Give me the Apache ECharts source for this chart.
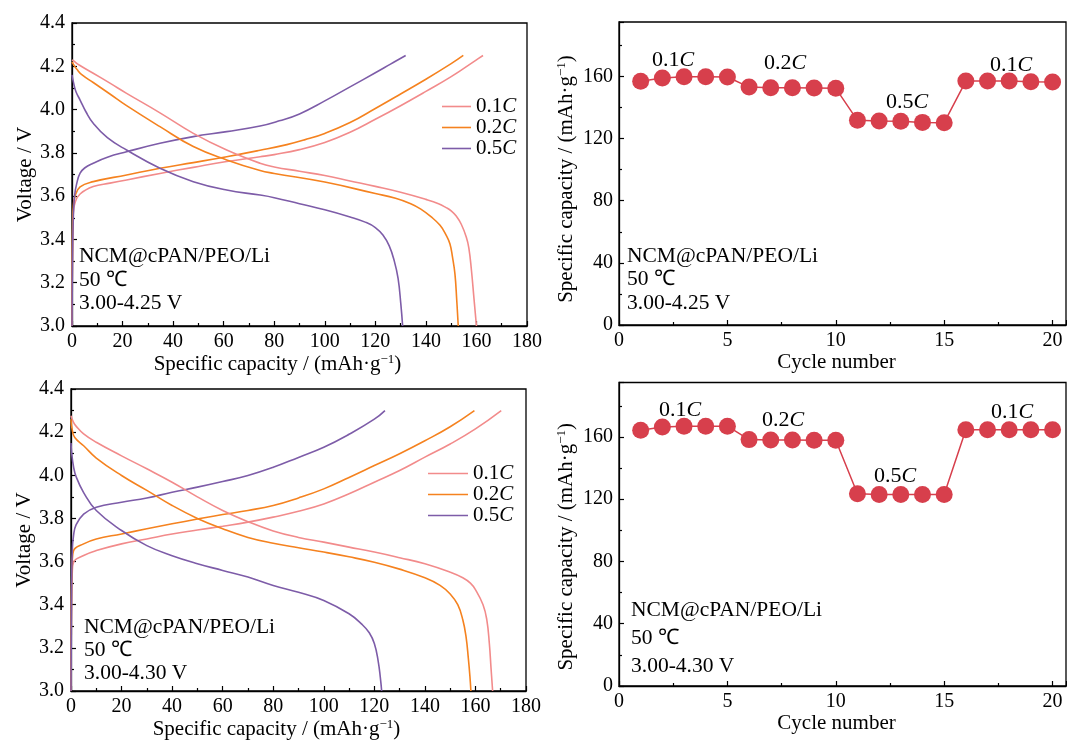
<!DOCTYPE html>
<html>
<head>
<meta charset="utf-8">
<script src="https://cdn.jsdelivr.net/npm/echarts@6/dist/echarts.min.js"></script>
<style>
  html, body { margin: 0; padding: 0; background: #fff; }
  #chart { width: 1067px; height: 743px; }
</style>
</head>
<body>
<div id="chart"></div>
<script>
// ---- charge / discharge profiles, cut-off 4.25 V : [capacity mAh/g, voltage V] ----
const chg01_425 = [[0,3.0],[0.2,3.35],[0.5,3.52],[1.2,3.57],[3.2,3.61],[8.4,3.644],[15,3.66],[21.6,3.675],[34.8,3.705],[48,3.733],[61.2,3.76],[74.4,3.782],[80,3.792],[90,3.815],[100,3.848],[110,3.895],[120,3.955],[130,4.018],[140,4.084],[150,4.152],[160,4.23],[162.6,4.25]];
const chg02_425 = [[0,3.0],[0.2,3.4],[0.5,3.55],[1.2,3.60],[3.2,3.643],[8.4,3.667],[21.6,3.698],[34.8,3.729],[48,3.755],[61.2,3.782],[74.4,3.812],[85,3.838],[92,3.86],[100,3.89],[110,3.94],[120,4.005],[130,4.072],[140,4.14],[150,4.212],[154.8,4.25]];
const chg05_425 = [[0,3.0],[0.2,3.3],[0.5,3.49],[1,3.6],[1.9,3.66],[3.2,3.706],[5,3.73],[8.4,3.752],[14,3.78],[21.6,3.805],[34.8,3.844],[48,3.875],[61.2,3.898],[74.4,3.924],[82,3.948],[90,3.98],[100,4.04],[110,4.105],[120,4.17],[126,4.21],[132,4.25]];
const dis01_425 = [[0,4.23],[0.5,4.226],[3,4.205],[8.4,4.168],[15,4.122],[21.6,4.075],[34.8,3.985],[48,3.89],[61.2,3.813],[74.4,3.752],[80,3.735],[90,3.715],[100,3.695],[110,3.67],[120,3.645],[130,3.618],[140,3.585],[145,3.565],[148,3.547],[150,3.532],[152,3.508],[154,3.47],[156,3.41],[157,3.36],[158,3.26],[159,3.13],[160,3.0]];
const dis02_425 = [[0,4.22],[0.5,4.21],[2,4.185],[4,4.16],[8.4,4.125],[15,4.072],[21.6,4.018],[34.8,3.921],[48,3.829],[61.2,3.767],[74.4,3.718],[80,3.705],[100,3.665],[120,3.612],[128,3.59],[134,3.565],[138,3.54],[142,3.505],[145.6,3.465],[148,3.42],[149.5,3.38],[150.5,3.32],[151.5,3.24],[152.2,3.12],[152.8,3.0]];
const dis05_425 = [[0,4.16],[0.5,4.13],[1.5,4.085],[3.2,4.044],[5.5,3.99],[8.4,3.937],[14,3.87],[21.6,3.813],[34.8,3.729],[48,3.667],[61.2,3.628],[74.4,3.605],[80,3.593],[90,3.565],[100,3.537],[110,3.504],[116,3.48],[120,3.455],[123,3.42],[125.5,3.37],[127.5,3.30],[129,3.22],[130.1,3.1],[130.8,3.0]];

// ---- charge / discharge profiles, cut-off 4.30 V ----
const chg01_430 = [[0,3.0],[0.2,3.4],[0.5,3.55],[1,3.597],[5,3.628],[10,3.651],[20,3.682],[30,3.705],[40,3.728],[50,3.746],[60,3.764],[70,3.783],[80,3.806],[90,3.833],[100,3.867],[110,3.914],[120,3.968],[130,4.022],[140,4.084],[150,4.145],[160,4.215],[170.2,4.30]];
const chg02_430 = [[0,3.0],[0.2,3.45],[0.5,3.6],[1,3.65],[5,3.682],[10,3.705],[20,3.728],[30,3.752],[40,3.775],[50,3.797],[60,3.818],[70,3.837],[80,3.86],[90,3.895],[100,3.937],[110,3.99],[120,4.045],[130,4.10],[140,4.16],[150,4.225],[159.6,4.30]];
const chg05_430 = [[0,3.0],[0.2,3.4],[0.5,3.65],[1,3.72],[2,3.77],[5,3.82],[10,3.852],[20,3.875],[30,3.895],[40,3.921],[50,3.945],[60,3.971],[70,3.999],[80,4.037],[90,4.083],[100,4.13],[110,4.19],[120,4.26],[124.2,4.30]];
const dis01_430 = [[0,4.276],[1,4.245],[2,4.228],[5,4.192],[10,4.153],[20,4.09],[30,4.03],[40,3.968],[50,3.90],[60,3.837],[70,3.785],[80,3.742],[90,3.712],[100,3.69],[110,3.667],[120,3.644],[130,3.618],[140,3.59],[150,3.551],[155,3.525],[158,3.50],[160,3.47],[163,3.40],[164.5,3.33],[165.5,3.22],[166.2,3.1],[166.8,3.0]];
const dis02_430 = [[0,4.26],[0.5,4.21],[1.5,4.175],[5,4.137],[10,4.08],[20,3.999],[30,3.93],[40,3.86],[50,3.80],[60,3.752],[70,3.712],[80,3.685],[90,3.664],[100,3.644],[110,3.622],[120,3.597],[130,3.565],[140,3.525],[146,3.49],[150,3.45],[153,3.40],[155,3.33],[156.3,3.25],[157.2,3.15],[157.8,3.07],[158.2,3.0]];
const dis05_430 = [[0,4.15],[0.3,4.1],[1,4.04],[2,3.994],[5,3.92],[10,3.837],[20,3.744],[30,3.674],[40,3.627],[50,3.59],[60,3.559],[70,3.528],[80,3.489],[90,3.458],[100,3.42],[110,3.358],[115,3.31],[118,3.27],[120,3.22],[121.5,3.14],[122.4,3.06],[122.9,3.0]];

// ---- rate capability: capacity per cycle ----
const cycles = [1,2,3,4,5,6,7,8,9,10,11,12,13,14,15,16,17,18,19,20];
const rate_425 = [156.8,158.9,159.8,159.8,159.6,153.1,152.7,152.7,152.5,152.3,131.7,131.3,131.1,130.4,130.2,157.0,157.0,157.0,156.6,156.4];
const rate_430 = [164.3,166.4,166.9,166.9,166.9,158.3,158.1,158.1,157.9,157.9,123.5,123.1,123.1,123.1,123.1,164.7,164.7,164.7,164.7,164.7];

const rateNames = ['0.1C', '0.2C', '0.5C'];

const FONT = 'Liberation Serif';
const COLORS = { '0.1C': '#f28b8b', '0.2C': '#f5821f', '0.5C': '#7d5ca8' };
const DOT = '#d73f4c';

function richC(size, lh) {
  const base = { fontFamily: FONT, fontSize: size, color: '#000' };
  if (lh) base.lineHeight = lh;
  return { n: Object.assign({}, base), i: Object.assign({ fontStyle: 'italic' }, base) };
}
const rateText = name => '{n|' + name.slice(0, -1) + '}{i|C}';

const capName = '{t|Specific capacity / (mAh·g}{s|−1}{t|)}';
const nameRich = {
  t: { fontFamily: FONT, fontSize: 21, color: '#000' },
  s: { fontFamily: FONT, fontSize: 13, color: '#000', padding: [0, 0, 10, 0] }
};
const nameStyle = pad => ({ fontFamily: FONT, fontSize: 21, color: '#000', rich: nameRich, padding: pad });

function baseAxis(extra) {
  return Object.assign({
    type: 'value',
    axisLine: { show: true, onZero: false, lineStyle: { color: '#000', width: 1.3 } },
    axisTick: { show: true, inside: true, length: 5, lineStyle: { color: '#000', width: 1.2 } },
    minorTick: { show: true, splitNumber: 2, length: 3, lineStyle: { color: '#000', width: 1.2 } },
    splitLine: { show: false },
    nameLocation: 'middle'
  }, extra);
}

const grids = [
  { left: 72, top: 23, width: 455, height: 303 },
  { left: 619, top: 22, width: 447, height: 303 },
  { left: 71, top: 389, width: 455, height: 302 },
  { left: 619, top: 382.5, width: 447, height: 303.5 }
].map(g => Object.assign({ show: true, borderColor: '#000', borderWidth: 1.3, backgroundColor: 'transparent' }, g));

function capAxis(gi) {
  return baseAxis({
    gridIndex: gi, min: 0, max: 180, interval: 20,
    name: capName, nameGap: 25, nameTextStyle: nameStyle([0, 44, 0, 0]),
    axisLabel: { fontFamily: FONT, fontSize: 20, color: '#000', margin: 6 }
  });
}
function voltAxis(gi) {
  return baseAxis({
    gridIndex: gi, min: 3.0, max: 4.4, interval: 0.2,
    name: 'Voltage / V', nameGap: 32, nameTextStyle: nameStyle([0, 0, 0, 0]),
    axisLabel: { fontFamily: FONT, fontSize: 20, color: '#000', margin: 7, formatter: v => v.toFixed(1) }
  });
}
function cycleAxis(gi) {
  return baseAxis({
    gridIndex: gi, min: 0, max: 20.62, interval: 5,
    name: 'Cycle number', nameGap: 25, nameTextStyle: nameStyle([0, 12, 0, 0]),
    axisLabel: { fontFamily: FONT, fontSize: 20, color: '#000', margin: 6, showMaxLabel: false }
  });
}
function specAxis(gi, pad) {
  return baseAxis({
    gridIndex: gi, min: 0, max: 195, interval: 40,
    name: capName, nameGap: 41, nameTextStyle: nameStyle(pad),
    axisLabel: { fontFamily: FONT, fontSize: 20, color: '#000', margin: 6, showMaxLabel: false }
  });
}

function curve(name, data, gi) {
  return {
    type: 'line', name: name, data: data,
    xAxisIndex: gi, yAxisIndex: gi,
    showSymbol: false, symbol: 'none',
    smooth: 0.45,
    lineStyle: { color: COLORS[name], width: 1.6 },
    itemStyle: { color: COLORS[name] },
    silent: true, animation: false
  };
}
function rateSeries(values, gi) {
  return {
    type: 'line', name: 'rate' + gi,
    data: cycles.map((c, k) => [c, values[k]]),
    xAxisIndex: gi, yAxisIndex: gi,
    symbol: 'circle', symbolSize: 17,
    lineStyle: { color: DOT, width: 1.5 },
    itemStyle: { color: DOT },
    animation: false
  };
}

function legendAt(left, top, width, lh) {
  return {
    orient: 'vertical', left: left, top: top,
    data: rateNames, icon: 'rect', itemWidth: width, itemHeight: 1.6, itemGap: 0,
    formatter: rateText,
    textStyle: { fontFamily: FONT, fontSize: 21, lineHeight: lh, color: '#000', rich: richC(21, lh) },
    selectedMode: false
  };
}

function label(x, y, text, size) {
  return { type: 'text', x: x, y: y, z: 100,
    style: { text: text, fontFamily: FONT, fontSize: size || 21.5, fill: '#000', align: 'left', verticalAlign: 'middle' } };
}
function rateLabel(x, y, name) {
  return { type: 'text', x: x, y: y, z: 100,
    style: { text: rateText(name), rich: richC(22), fontFamily: FONT, fontSize: 22, fill: '#000', align: 'center', verticalAlign: 'middle' } };
}
function cellNotes(x, ys, range) {
  return [
    label(x, ys[0], 'NCM@cPAN/PEO/Li'),
    label(x, ys[1], '50 ℃'),
    label(x, ys[2], range)
  ];
}

const option = {
  backgroundColor: '#fff',
  animation: false,
  grid: grids,
  xAxis: [capAxis(0), cycleAxis(1), capAxis(2), cycleAxis(3)],
  yAxis: [voltAxis(0), specAxis(1, [0, 11, 0, 0]), voltAxis(2), specAxis(3, [0, 25, 0, 0])],
  legend: [legendAt(437, 91, 29, 19.3), legendAt(423, 458, 40, 20.4)],
  series: [
    curve('0.1C', chg01_425, 0), curve('0.2C', chg02_425, 0), curve('0.5C', chg05_425, 0),
    curve('0.1C', dis01_425, 0), curve('0.2C', dis02_425, 0), curve('0.5C', dis05_425, 0),
    curve('0.1C', chg01_430, 2), curve('0.2C', chg02_430, 2), curve('0.5C', chg05_430, 2),
    curve('0.1C', dis01_430, 2), curve('0.2C', dis02_430, 2), curve('0.5C', dis05_430, 2),
    rateSeries(rate_425, 1), rateSeries(rate_430, 3)
  ],
  graphic: [].concat(
    cellNotes(79, [256, 280, 303], '3.00-4.25 V'),
    cellNotes(627, [256, 279, 303], '3.00-4.25 V'),
    cellNotes(84, [627, 650, 673], '3.00-4.30 V'),
    cellNotes(631, [610, 638, 666], '3.00-4.30 V'),
    [
      rateLabel(673, 60, '0.1C'), rateLabel(785, 63, '0.2C'),
      rateLabel(907, 102, '0.5C'), rateLabel(1011, 65, '0.1C'),
      rateLabel(680, 410, '0.1C'), rateLabel(783, 420, '0.2C'),
      rateLabel(895, 476, '0.5C'), rateLabel(1012, 412, '0.1C')
    ]
  )
};

const chart = echarts.init(document.getElementById('chart'), null, { renderer: 'canvas' });
chart.setOption(option);
</script>
</body>
</html>
